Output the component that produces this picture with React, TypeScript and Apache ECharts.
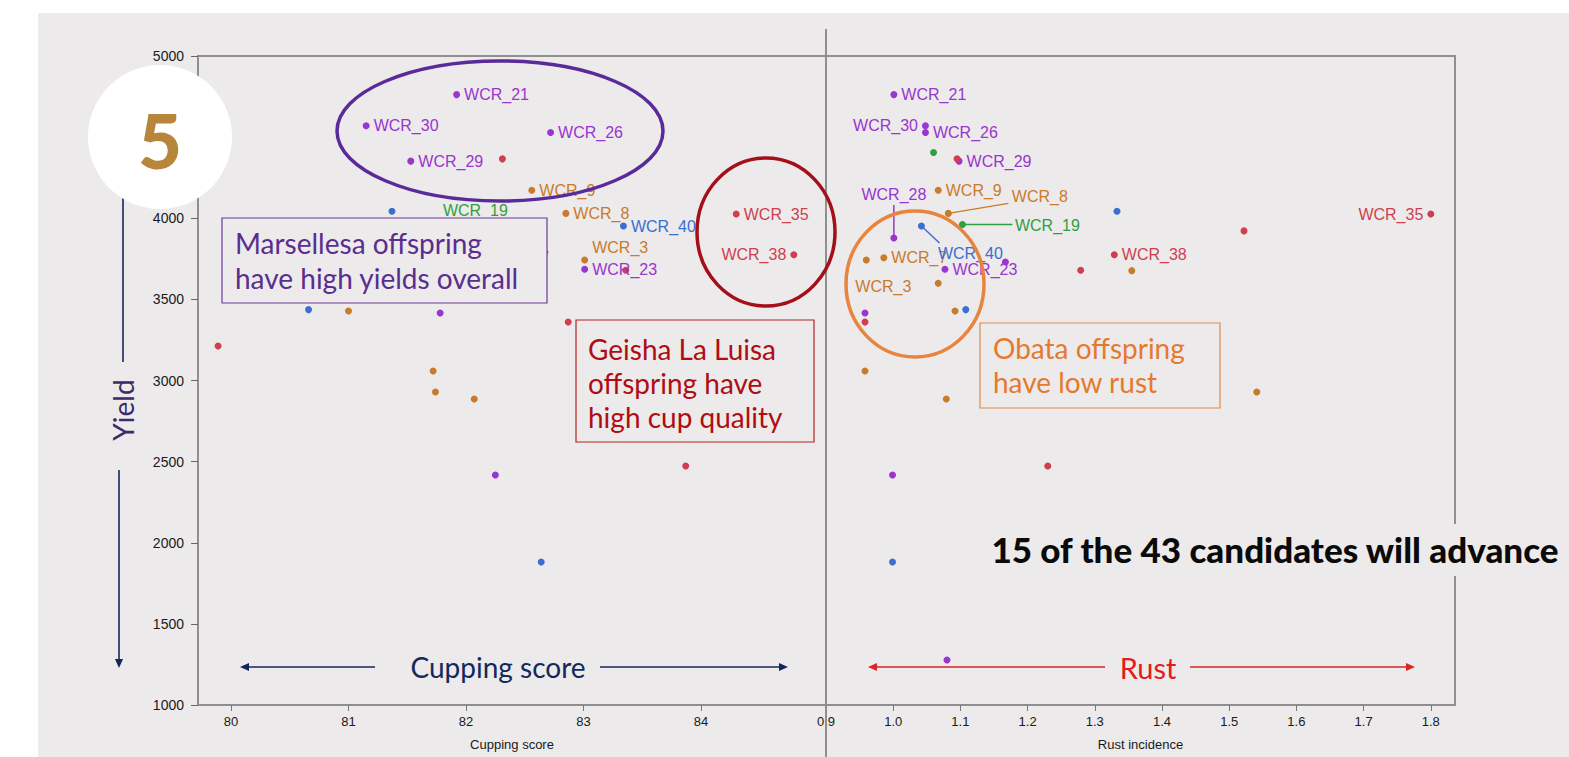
import React, { useEffect, useRef } from "react";
import * as echarts from "echarts";

// ---------- data ----------
const names = ["WCR_21","WCR_30","WCR_26","WCR_29","","","WCR_9","WCR_8","","WCR_19","WCR_40","WCR_35","WCR_38","WCR_28","WCR_3","WCR_7","WCR_23","","","","","","","","","","","","","","","","",""];
const groups = ["P","P","P","P","R","G","O","O","B","G","B","R","R","P","O","O","P","R","P","O","O","R","B","O","P","R","R","O","O","O","P","R","B","P"];
const cupping = [81.92,81.15,82.72,81.53,82.31,79.96,82.56,82.85,81.37,81.74,83.34,84.30,84.79,81.00,83.01,82.17,83.01,83.36,80.90,81.30,80.50,81.50,80.66,81.00,81.78,82.87,79.89,81.72,81.74,82.07,82.25,83.87,82.64,82.00];
const rust = [1.001,1.048,1.048,1.098,1.095,1.060,1.067,1.082,1.333,1.103,1.042,1.800,1.329,1.001,0.960,0.986,1.077,1.279,1.167,1.355,1.067,1.522,1.108,1.092,0.958,0.958,1.200,0.958,1.541,1.079,0.999,1.230,0.999,1.080];
const yieldVals = [4762,4570,4528,4352,4366,4405,4173,4030,4043,3961,3952,4026,3775,3878,3743,3757,3686,3679,3730,3677,3599,3922,3437,3428,3416,3360,3213,3059,2929,2886,2418,2473,1881,1277];

const cupTicks = [80, 81, 82, 83, 84];
const rustTicks = [0.9, 1.0, 1.1, 1.2, 1.3, 1.4, 1.5, 1.6, 1.7, 1.8];
const yieldLabels = [1000, 1500, 2000, 2500, 3000, 3500, 4000, 5000];
const groupKeys = ["P", "O", "R", "B", "G"];

// ---------- styles ----------
const COLORS: Record<string, string> = { P: "#9a35cf", O: "#c97b2b", R: "#cf3f4f", B: "#3a6fd1", G: "#2f9f3f" };
const BG = "#eceaeb";
const GRID_L = 198, GRID_M = 826, GRID_R = 1455, GRID_T = 56, GRID_B = 705;

type LabelSpec = { pos: string; dx?: number; dy?: number };
const leftLabels: Record<string, LabelSpec> = {
  WCR_21: { pos: "right" }, WCR_30: { pos: "right" }, WCR_26: { pos: "right" }, WCR_29: { pos: "right" },
  WCR_9: { pos: "right" }, WCR_8: { pos: "right" }, WCR_19: { pos: "right", dy: -14 }, WCR_40: { pos: "right" },
  WCR_35: { pos: "right" }, WCR_38: { pos: "left" }, WCR_3: { pos: "right", dy: -12 }, WCR_7: { pos: "right" },
  WCR_23: { pos: "right" },
};
const rightLabels: Record<string, LabelSpec> = {
  WCR_21: { pos: "right" }, WCR_30: { pos: "left" }, WCR_26: { pos: "right" }, WCR_29: { pos: "right" },
  WCR_9: { pos: "right" }, WCR_8: { pos: "right", dx: 56, dy: -17 }, WCR_19: { pos: "right", dx: 45, dy: 1 },
  WCR_40: { pos: "right", dx: 9, dy: 27 }, WCR_28: { pos: "top", dy: -28 }, WCR_3: { pos: "bottom", dx: 17, dy: 11 },
  WCR_7: { pos: "right" }, WCR_23: { pos: "right" }, WCR_38: { pos: "right" }, WCR_35: { pos: "left" },
};
const leaders = [
  { name: "WCR_8", dx: 60, dy: -10 },
  { name: "WCR_19", dx: 50, dy: 0 },
  { name: "WCR_40", dx: 18, dy: 17 },
  { name: "WCR_28", dx: 0, dy: -33 },
];

function buildSeries(panel: number) {
  const labels = panel === 0 ? leftLabels : rightLabels;
  return groupKeys.map((g) => ({
    type: "scatter",
    xAxisIndex: panel,
    yAxisIndex: panel,
    symbolSize: 7,
    z: 3,
    itemStyle: { color: COLORS[g], opacity: 1 },
    label: { show: false, fontFamily: "Liberation Sans, Arial, sans-serif", fontSize: 16, color: COLORS[g] },
    data: names
      .map((n, i) => i)
      .filter((i) => groups[i] === g)
      .map((i) => {
        const spec = labels[names[i]];
        const item: any = { name: names[i], value: [panel === 0 ? cupping[i] : rust[i], yieldVals[i]] };
        if (spec) {
          item.label = {
            show: true,
            position: spec.pos,
            distance: 4,
            offset: [spec.dx || 0, spec.dy || 0],
            formatter: "{b}",
          };
        }
        return item;
      }),
  }));
}

function arrow(x1: number, y1: number, x2: number, y2: number, color: string, w = 1.6, head = 9) {
  const ang = Math.atan2(y2 - y1, x2 - x1);
  const bx = x2 - Math.cos(ang) * head, by = y2 - Math.sin(ang) * head;
  const px = -Math.sin(ang) * head * 0.45, py = Math.cos(ang) * head * 0.45;
  return [
    { type: "line", z: 100, shape: { x1, y1, x2: bx, y2: by }, style: { stroke: color, lineWidth: w } },
    { type: "polygon", z: 100, shape: { points: [[x2, y2], [bx + px, by + py], [bx - px, by - py]] }, style: { fill: color } },
  ];
}

const FONT_ANN = "Lato, 'Open Sans', sans-serif";

function staticGraphics() {
  const els: any[] = [];
  // white page margins
  els.push({ type: "rect", z: 200, shape: { x: 0, y: 0, width: 1569, height: 13 }, style: { fill: "#ffffff" } });
  els.push({ type: "rect", z: 200, shape: { x: 0, y: 0, width: 38, height: 757 }, style: { fill: "#ffffff" } });
  // divider extension
  els.push({ type: "line", z: 50, shape: { x1: GRID_M, y1: 29, x2: GRID_M, y2: 757 }, style: { stroke: "#8f8f8f", lineWidth: 2 } });

  // ellipses
  els.push({ type: "ellipse", z: 100, shape: { cx: 500, cy: 131, rx: 163, ry: 70 }, style: { fill: "none", stroke: "#5a2a9a", lineWidth: 3.5 } });
  els.push({ type: "ellipse", z: 100, shape: { cx: 766, cy: 232, rx: 69, ry: 74 }, style: { fill: "none", stroke: "#a50f1a", lineWidth: 3.5 } });
  els.push({ type: "ellipse", z: 100, shape: { cx: 915, cy: 284, rx: 69, ry: 73 }, style: { fill: "none", stroke: "#e8843c", lineWidth: 3.5 } });

  // purple box
  els.push({ type: "rect", z: 100, shape: { x: 222, y: 218, width: 325, height: 85 }, style: { fill: BG, stroke: "#6a3a9a", lineWidth: 1.2 } });
  els.push({ type: "text", z: 101, x: 235, y: 225, style: { text: "Marsellesa offspring\nhave high yields overall", font: `28px ${FONT_ANN}`, fill: "#5b2d8e", lineHeight: 35, verticalAlign: "top" } });
  // red box
  els.push({ type: "rect", z: 100, shape: { x: 576, y: 320, width: 238, height: 122 }, style: { fill: BG, stroke: "#b82020", lineWidth: 1.2 } });
  els.push({ type: "text", z: 101, x: 588, y: 332, style: { text: "Geisha La Luisa\noffspring have\nhigh cup quality", font: `28px ${FONT_ANN}`, fill: "#b00d12", lineHeight: 34, verticalAlign: "top" } });
  // orange box
  els.push({ type: "rect", z: 100, shape: { x: 980, y: 323, width: 240, height: 85 }, style: { fill: BG, stroke: "#e0894a", lineWidth: 1.2 } });
  els.push({ type: "text", z: 101, x: 993, y: 331, style: { text: "Obata offspring\nhave low rust", font: `28px ${FONT_ANN}`, fill: "#e57a2e", lineHeight: 34, verticalAlign: "top" } });

  // Cupping score annotation
  els.push({ type: "rect", z: 99, shape: { x: 405, y: 650, width: 188, height: 36 }, style: { fill: BG } });
  els.push({ type: "text", z: 101, x: 498, y: 667, style: { text: "Cupping score", font: `28px ${FONT_ANN}`, fill: "#13295b", align: "center", verticalAlign: "middle" } });
  els.push(...arrow(375, 667, 240, 667, "#15275a"));
  els.push(...arrow(600, 667, 788, 667, "#15275a"));
  // Rust annotation
  els.push({ type: "text", z: 101, x: 1148, y: 667, style: { text: "Rust", font: `29px ${FONT_ANN}`, fill: "#e31b1b", align: "center", verticalAlign: "middle" } });
  els.push(...arrow(1105, 667, 868, 667, "#d92525"));
  els.push(...arrow(1190, 667, 1415, 667, "#d92525"));
  // Yield annotation
  els.push({ type: "line", z: 100, shape: { x1: 123, y1: 198, x2: 123, y2: 362 }, style: { stroke: "#15275a", lineWidth: 1.6 } });
  els.push({ type: "text", z: 101, x: 123, y: 410, rotation: Math.PI / 2, style: { text: "Yield", font: `28px ${FONT_ANN}`, fill: "#3b2b6b", align: "center", verticalAlign: "middle" } });
  els.push(...arrow(119, 470, 119, 668, "#15275a"));

  // number badge
  els.push({ type: "circle", z: 150, shape: { cx: 160, cy: 137, r: 72 }, style: { fill: "#ffffff" } });
  els.push({ type: "text", z: 151, x: 160, y: 139, style: { text: "5", font: `900 76px ${FONT_ANN}`, fill: "#b8863b", align: "center", verticalAlign: "middle" } });

  // headline
  els.push({ type: "rect", z: 100, shape: { x: 988, y: 524, width: 578, height: 52 }, style: { fill: BG } });
  els.push({ type: "text", z: 101, x: 1275, y: 549, style: { text: "15 of the 43 candidates will advance", font: `900 35px ${FONT_ANN}`, fill: "#0a0a0a", align: "center", verticalAlign: "middle" } });
  return els;
}

const axisLabelFont = { fontFamily: "Liberation Sans, Arial, sans-serif", fontSize: 13, color: "#1a1a1a" };

export default function App() {
  const ref = useRef<HTMLDivElement>(null);
  useEffect(() => {
    const chart = echarts.init(ref.current!, null, { renderer: "svg" });
    const option: any = {
      animation: false,
      backgroundColor: BG,
      grid: [
        { left: GRID_L, top: GRID_T, width: GRID_M - GRID_L, height: GRID_B - GRID_T, show: true, borderColor: "#8f8f8f", borderWidth: 2, backgroundColor: "transparent" },
        { left: GRID_M, top: GRID_T, width: GRID_R - GRID_M, height: GRID_B - GRID_T, show: true, borderColor: "#8f8f8f", borderWidth: 2, backgroundColor: "transparent" },
      ],
      xAxis: [
        {
          type: "value", gridIndex: 0, min: 79.719, max: 85.064,
          name: "Cupping score", nameLocation: "middle", nameGap: 33,
          nameTextStyle: { fontFamily: "Liberation Sans, Arial, sans-serif", fontSize: 13, color: "#1a1a1a" },
          axisLine: { show: false },
          axisTick: { show: true, length: 6, lineStyle: { color: "#777" }, customValues: cupTicks },
          axisLabel: { ...axisLabelFont, margin: 10, customValues: cupTicks, formatter: (v: number) => String(v) },
          splitLine: { show: false },
        },
        {
          type: "value", gridIndex: 1, min: 0.9, max: 1.836,
          name: "Rust incidence", nameLocation: "middle", nameGap: 33,
          nameTextStyle: { fontFamily: "Liberation Sans, Arial, sans-serif", fontSize: 13, color: "#1a1a1a" },
          axisLine: { show: false },
          axisTick: { show: true, length: 6, lineStyle: { color: "#777" }, customValues: rustTicks },
          axisLabel: { ...axisLabelFont, margin: 10, customValues: rustTicks, formatter: (v: number) => v.toFixed(1) },
          splitLine: { show: false },
        },
      ],
      yAxis: [
        {
          type: "value", gridIndex: 0, min: 1000, max: 5000, interval: 500,
          axisLine: { show: false },
          axisTick: { show: true, length: 7, lineStyle: { color: "#666" } },
          axisLabel: { ...axisLabelFont, fontSize: 14, margin: 14, customValues: yieldLabels, formatter: (v: number) => String(v) },
          splitLine: { show: false },
        },
        { type: "value", gridIndex: 1, min: 1000, max: 5000, interval: 500, show: false, splitLine: { show: false } },
      ],
      series: [...buildSeries(0), ...buildSeries(1)],
    };
    chart.setOption(option);

    const leaderEls = leaders.map((l) => {
      const i = names.indexOf(l.name);
      const p = chart.convertToPixel({ gridIndex: 1 }, [rust[i], yieldVals[i]]) as number[];
      return {
        type: "line", z: 5,
        shape: { x1: p[0], y1: p[1], x2: p[0] + l.dx, y2: p[1] + l.dy },
        style: { stroke: COLORS[groups[i]], lineWidth: 1.5 },
      };
    });
    chart.setOption({ graphic: { elements: [...staticGraphics(), ...leaderEls] } });
    return () => chart.dispose();
  }, []);
  return <div ref={ref} style={{ position: "fixed", left: 0, top: 0, width: 1569, height: 757 }} />;
}
